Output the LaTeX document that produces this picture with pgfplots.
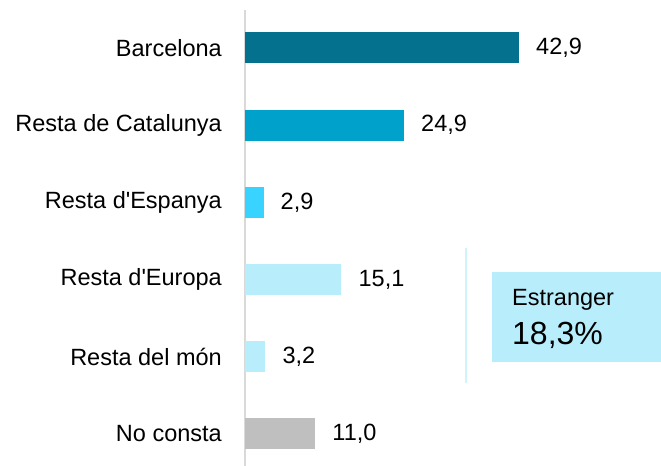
\documentclass[border=0pt]{standalone}
\usepackage{fontspec}
\setmainfont{Liberation Sans}
\usepackage{pgfplots}
\pgfplotsset{compat=1.18}
\definecolor{cBcn}{RGB}{4,113,143}
\definecolor{cCat}{RGB}{0,161,203}
\definecolor{cEsp}{RGB}{56,212,255}
\definecolor{cLight}{RGB}{184,238,252}
\definecolor{cGray}{RGB}{191,191,191}
\definecolor{cAxis}{RGB}{217,217,217}
\definecolor{cSep}{RGB}{208,244,252}
\newcommand{\lblfont}{\fontsize{23.5bp}{28bp}\selectfont}
\begin{document}
\begin{tikzpicture}
\path[use as bounding box] (0,0) rectangle (661bp,466bp);
\begin{axis}[
  at={(245bp,0bp)}, anchor=south west,
  scale only axis, width=416bp, height=456bp,
  xmin=0, xmax=65.13, ymin=-0.415, ymax=5.492,
  xbar, bar width=31bp,
  axis x line=none, axis y line=left,
  y axis line style={draw=cAxis, line width=2bp, -},
  xtick=\empty,
  ytick={0,1,2,3,4,5},
  yticklabels={No consta, Resta del món, Resta d\textquotesingle Europa, Resta d\textquotesingle Espanya, Resta de Catalunya, Barcelona},
  major tick length=0pt, ytick style={draw=none},
  yticklabel style={font=\lblfont, inner sep=0pt, anchor=east, xshift=-23bp},
  clip=false,
  /pgf/number format/.cd, use comma, fixed, fixed zerofill, precision=1, assume math mode=true,
  /pgfplots/.cd,
  nodes near coords,
  nodes near coords style={font=\lblfont, anchor=west, inner sep=0pt, xshift=17bp, text=black},
]
\addplot[fill=cBcn, draw=none, bar shift=0pt] coordinates {(42.9,5)};
\addplot[fill=cCat, draw=none, bar shift=0pt] coordinates {(24.9,4)};
\addplot[fill=cEsp, draw=none, bar shift=0pt] coordinates {(2.9,3)};
\addplot[fill=cLight, draw=none, bar shift=0pt] coordinates {(15.1,2)};
\addplot[fill=cLight, draw=none, bar shift=0pt] coordinates {(3.2,1)};
\addplot[fill=cGray, draw=none, bar shift=0pt] coordinates {(11.0,0)};
\draw[cSep, line width=2bp] (axis cs:34.6,2.41) -- (axis cs:34.6,0.66);
\fill[cLight] (axis cs:38.67,2.098) rectangle (axis cs:65.13,0.933);
\node[anchor=base west, inner sep=0pt, font=\lblfont] at (axis cs:41.8,1.662) {Estranger};
\node[anchor=base west, inner sep=0pt, font=\fontsize{32bp}{36bp}\selectfont] at (axis cs:41.8,1.153) {18,3\%};
\end{axis}
\end{tikzpicture}
\end{document}
